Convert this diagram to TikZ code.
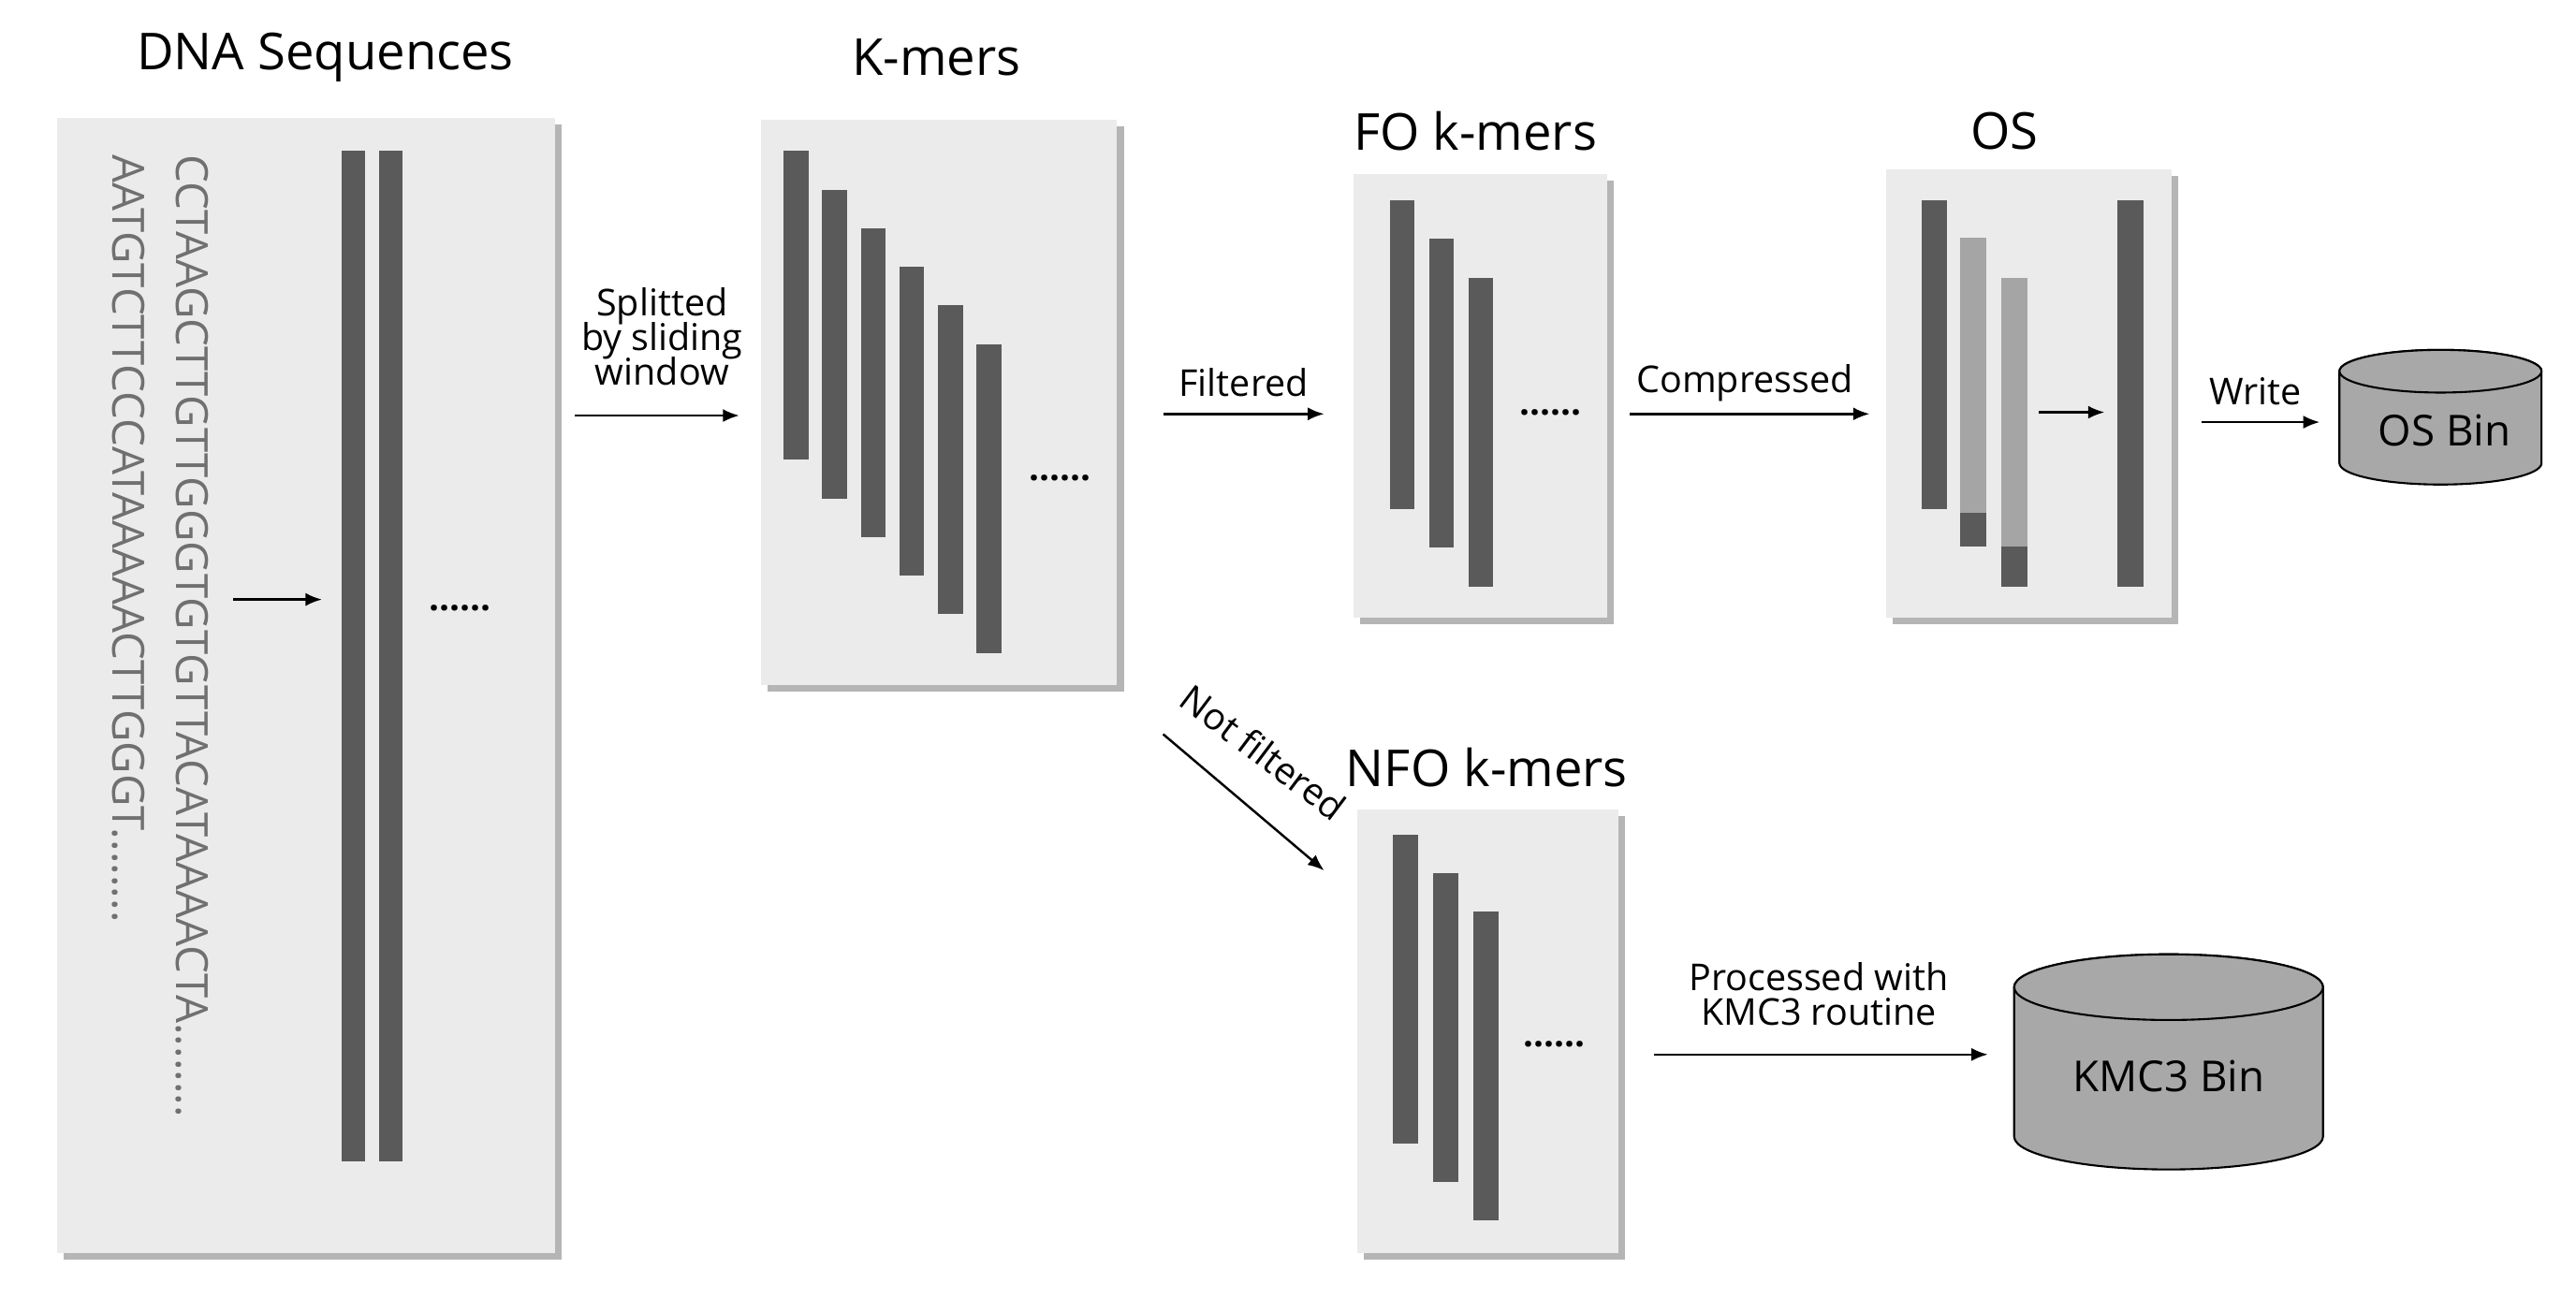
\documentclass[tikz,border=0pt]{standalone}
\usepackage{fontspec}
\setmainfont{Open Sans}
\usetikzlibrary{arrows.meta}
\definecolor{boxbg}{HTML}{EBEBEB}
\definecolor{shadowc}{HTML}{B5B5B5}
\definecolor{bardark}{HTML}{5A5A5A}
\definecolor{barlight}{HTML}{A5A5A5}
\definecolor{seqc}{HTML}{707070}
\definecolor{cylc}{HTML}{A8A8A8}
\tikzset{
  panel/.style={fill=boxbg,draw=none},
  pshadow/.style={fill=shadowc,draw=none},
  kbar/.style={fill=bardark,draw=none},
  lbar/.style={fill=barlight,draw=none},
  ttl/.style={font=\fontsize{31}{33}\selectfont},
  lbl/.style={font=\fontsize{22.5}{25}\selectfont,align=center},
  seq/.style={font=\fontsize{27}{28}\selectfont,text=seqc,rotate=-90,anchor=west,inner sep=0},
  dots/.style={font=\fontsize{22}{22}\selectfont\bfseries},
  arr/.style={-{Latex[length=10pt,width=8pt]},line width=1.4pt},
  cylbody/.style={fill=cylc,draw=black,line width=1.2pt},
  cyltext/.style={font=\fontsize{26}{28}\selectfont}
}
\newcommand{\panelbox}[5]{% name x1 y1 x2 y2
  \fill[pshadow] (#2+4,#3+4) rectangle (#4+4,#5+4);
  \path[panel] (#2,#3) rectangle (#4,#5);
  \coordinate (#1) at ({(#2+#4)/2},{(#3+#5)/2});
}
% name x1 x2 ytop ybottom ry
\newcommand{\mycyl}[6]{%
  \pgfmathsetmacro{\rx}{(#3-#2)/2}
  \path[cylbody] (#2,#4) -- (#2,#5) arc[start angle=180,end angle=0,x radius=\rx,y radius=#6] -- (#3,#4) arc[start angle=0,end angle=-180,x radius=\rx,y radius=#6] -- cycle;
  \path[cylbody] ({(#2+#3)/2},#4) ellipse[x radius=\rx,y radius=#6];
  \coordinate (#1) at (#2,{(#4+#5)/2});
}
\begin{document}
\begin{tikzpicture}[x=1pt,y=-1pt]
\useasboundingbox[fill=white] (0,0) rectangle (1568,790);
% DNA sequences
\node[ttl] (tdna) at (198,35) {DNA Sequences};
\panelbox{pdna}{35}{72}{338}{763}
\node[seq] (s1) at (117,94) {CCTAAGCTTGTTGGGTGTGTTACATAAAACTA........};
\node[seq] (s2) at (78,94) {AATGTCTTCCCATAAAAACTTGGGT........};
\fill[kbar] (208,92) rectangle (222,707);
\fill[kbar] (231,92) rectangle (245,707);
\coordinate (a0s) at (142,365); \coordinate (a0e) at (196,365);
\draw[arr] (a0s) -- (a0e);
\node[dots] (d0) at (280,370) {......};
% K-mers
\node[ttl] (tk) at (570,35) {K-mers};
\panelbox{pk}{463}{73}{680}{417}
\foreach \i in {0,...,5}{
  \fill[kbar] (477+23.5*\i,92+23.5*\i) rectangle (492+23.5*\i,280+23.5*\i);
}
\node[dots] (d1) at (645,291) {......};
\node[lbl] (lsplit) at (403,205) {Splitted\\[-4pt]by sliding\\[-4pt]window};
\coordinate (a1s) at (350,253); \coordinate (a1e) at (450,253);
\draw[arr] (a1s) -- (a1e);
% FO
\node[ttl] (tfo) at (898,80) {FO k-mers};
\panelbox{pfo}{824}{106}{978}{376}
\foreach \i in {0,1,2}{
  \fill[kbar] (846+24*\i,122+23.5*\i) rectangle (861+24*\i,310+23.5*\i);
}
\node[dots] (d2) at (944,251) {......};
\node[lbl] (lfilt) at (757,233) {Filtered};
\coordinate (a2s) at (708,252); \coordinate (a2e) at (806,252);
\draw[arr] (a2s) -- (a2e);
% OS
\node[ttl] (tos) at (1220,80) {OS};
\panelbox{pos}{1148}{103}{1322}{376}
\fill[kbar] (1170,122) rectangle (1185,310);
\fill[lbar] (1193,145) rectangle (1209,312);
\fill[kbar] (1193,312) rectangle (1209,333);
\fill[lbar] (1218,169) rectangle (1234,333);
\fill[kbar] (1218,333) rectangle (1234,357);
\fill[kbar] (1289,122) rectangle (1305,357);
\coordinate (a3s) at (1241,251); \coordinate (a3e) at (1281,251);
\draw[arr] (a3s) -- (a3e);
\node[lbl] (lcomp) at (1062,233) {Compressed};
\coordinate (a4s) at (992,252); \coordinate (a4e) at (1138,252);
\draw[arr] (a4s) -- (a4e);
% OS Bin
\node[lbl] (lwrite) at (1373,238) {Write};
\mycyl{osbin}{1424}{1547}{226}{282}{13}
\node[cyltext] (osbint) at (1488,262) {OS Bin};
\coordinate (a5s) at (1340,257); \coordinate (a5e) at (1412,257);
\draw[arr] (a5s) -- (a5e);
% NFO
\node[lbl,rotate=-37] (lnot) at (769,458) {Not filtered};
\coordinate (a6s) at (708,447); \coordinate (a6e) at (806,530);
\draw[arr] (a6s) -- (a6e);
\node[ttl] (tnfo) at (905,467) {NFO k-mers};
\panelbox{pnfo}{826}{493}{985}{763}
\foreach \i in {0,1,2}{
  \fill[kbar] (848+24.5*\i,508+23.5*\i) rectangle (863+24.5*\i,696+23.5*\i);
}
\node[dots] (d3) at (946,636) {......};
\node[lbl] (lproc) at (1107,605) {Processed with\\[-4pt]KMC3 routine};
\mycyl{kmcbin}{1226}{1414}{601}{692}{20}
\node[cyltext] (kmct) at (1320,655) {KMC3 Bin};
\coordinate (a7s) at (1007,642); \coordinate (a7e) at (1210,642);
\draw[arr] (a7s) -- (a7e);
\end{tikzpicture}
\end{document}
